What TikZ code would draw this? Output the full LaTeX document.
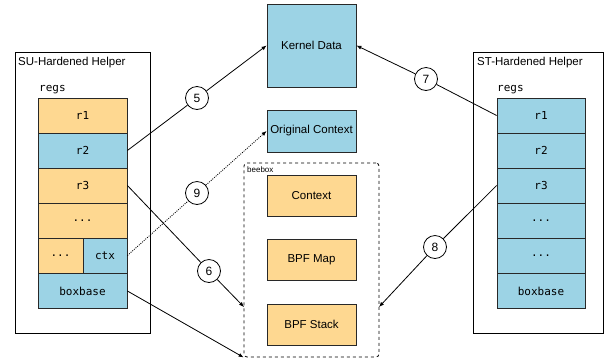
\documentclass[tikz,border=0pt]{standalone}
\usepackage{fontspec}
\setmainfont{Liberation Sans}
\newfontfamily\regfont{DejaVu Sans Mono}
\usetikzlibrary{arrows.meta}
\definecolor{regorange}{RGB}{254,216,145}
\definecolor{regblue}{RGB}{156,211,229}
\definecolor{edgegray}{RGB}{40,40,40}
\tikzset{
  reg/.style={draw=edgegray, line width=0.8pt, minimum width=89pt, minimum height=35pt, inner sep=0pt, font=\regfont\fontsize{11}{13}\selectfont},
  halfreg/.style={draw=edgegray, line width=0.8pt, minimum height=35pt, inner sep=0pt, font=\regfont\fontsize{11}{13}\selectfont},
  obox/.style={draw=edgegray, line width=0.8pt, minimum width=89pt, inner sep=0pt, font=\fontsize{11.5}{13}\selectfont},
  helper/.style={draw=black, line width=0.8pt},
  num/.style={circle, draw=black, line width=0.8pt, fill=white, minimum size=23pt, inner sep=0pt, font=\fontsize{12}{14}\selectfont},
  conn/.style={line width=0.8pt},
  tip/.style={-{Latex[length=5pt,width=4pt]}},
  finedot/.style={dash pattern=on 1pt off 1.2pt},
}
\begin{document}
\begin{tikzpicture}[x=1pt,y=-1pt]
\useasboundingbox (0,0) rectangle (605,360);
% helper frames
\node[helper, minimum width=135pt, minimum height=281pt, inner sep=0pt] (lhelp) at (82.5,192.5) {};
\node[helper, minimum width=130pt, minimum height=281pt, inner sep=0pt] (rhelp) at (538.5,192.5) {};
\node[anchor=west, inner sep=0pt, font=\fontsize{11.5}{13}\selectfont] (ltitle) at (18,63) {SU-Hardened Helper};
\node[anchor=west, inner sep=0pt, font=\fontsize{11.5}{13}\selectfont] (rtitle) at (477,63) {ST-Hardened Helper};
\node[anchor=west, inner sep=0pt, font=\regfont\fontsize{11}{13}\selectfont] (lregs) at (39,90) {regs};
\node[anchor=west, inner sep=0pt, font=\regfont\fontsize{11}{13}\selectfont] (rregs) at (497,90) {regs};
% left registers
\node[reg, fill=regorange] (l1) at (82.5,115.5) {r1};
\node[reg, fill=regblue] (l2) at (82.5,150.5) {r2};
\node[reg, fill=regorange] (l3) at (82.5,185.5) {r3};
\node[reg, fill=regorange] (l4) at (82.5,220.5) {...};
\node[halfreg, fill=regorange, minimum width=45pt] (l5a) at (60.5,255.5) {...};
\node[halfreg, fill=regblue, minimum width=44pt] (l5b) at (105,255.5) {ctx};
\node[reg, fill=regblue] (l6) at (82.5,291) {boxbase};
% right registers
\node[reg, fill=regblue, minimum width=88pt] (r1) at (541,115.5) {r1};
\node[reg, fill=regblue, minimum width=88pt] (r2) at (541,150.5) {r2};
\node[reg, fill=regblue, minimum width=88pt] (r3) at (541,185.5) {r3};
\node[reg, fill=regblue, minimum width=88pt] (r4) at (541,220.5) {...};
\node[reg, fill=regblue, minimum width=88pt] (r5) at (541,255.5) {...};
\node[reg, fill=regblue, minimum width=88pt] (r6) at (541,291) {boxbase};
% center
\node[obox, fill=regblue, minimum height=83pt] (kd) at (311.5,45.5) {Kernel Data};
\node[obox, fill=regblue, minimum height=42pt] (oc) at (311.5,131) {Original Context};
\node[draw=black, dashed, line width=0.8pt, rounded corners=3pt, minimum width=135pt, minimum height=194pt, inner sep=0pt] (bee) at (311.5,260) {};
\node[anchor=north west, inner sep=0pt, font=\fontsize{8}{9}\selectfont] (beelabel) at (247,166) {beebox};
\node[obox, fill=regorange, minimum height=41pt] (ctx) at (311.5,195.5) {Context};
\node[obox, fill=regorange, minimum height=41pt] (map) at (311.5,259.5) {BPF Map};
\node[obox, fill=regorange, minimum height=41pt] (stk) at (311.5,324.5) {BPF Stack};
% numbered circles
\node[num] (c5) at (197,98) {5};
\node[num] (c7) at (426,79) {7};
\node[num] (c9) at (197,193) {9};
\node[num] (c6) at (209,271) {6};
\node[num] (c8) at (435,247) {8};
\coordinate (e6) at (244,307);
\coordinate (e8) at (379,307);
% connectors
\draw[conn] (l2.east) -- (c5);
\draw[conn, tip] (c5) -- (kd.west);
\draw[conn] (r1.west) -- (c7);
\draw[conn, tip] (c7) -- (kd.east);
\draw[conn, finedot] (l5b.east) -- (c9);
\draw[conn, finedot, tip] (c9) -- (oc.west);
\draw[conn] (l3.east) -- (c6);
\draw[conn, tip] (c6) -- (e6);
\draw[conn] (r3.west) -- (c8);
\draw[conn, tip] (c8) -- (e8);
\draw[conn, tip] (l6.east) -- (bee.south west);
\end{tikzpicture}
\end{document}
